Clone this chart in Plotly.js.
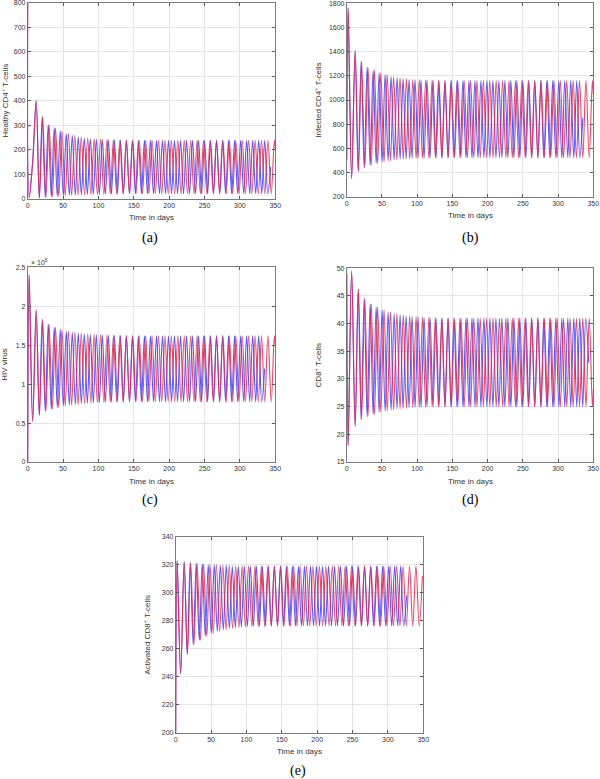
<!DOCTYPE html>
<html>
<head>
<meta charset="utf-8">
<script src="https://cdn.plot.ly/plotly-3.0.1.min.js"></script>
<style>html,body{margin:0;padding:0;background:#fff;}#chart{width:600px;height:779px;}</style>
</head>
<body>
<div id="chart"></div>
<script>
// Times (days) of successive turning points
const tBlue = [0, 2, 7, 12, 16.3, 20.5, 24.8, 29, 33.3, 37.5, 41.8, 46, 50.3, 54.5, 58.8, 63, 67.3, 71.5, 75.8, 80, 84.3, 88.5, 92.8, 97, 101.3, 105.5, 109.8, 114, 118.3, 122.5, 126.8, 131, 135.3, 139.5, 143.8, 148, 152.3, 156.5, 160.8, 165, 169.3, 173.5, 177.8, 182, 186.3, 190.5, 194.8, 199, 203.3, 207.5, 211.8, 216, 220.3, 224.5, 228.8, 233, 237.3, 241.5, 245.8, 250, 254.3, 258.5, 262.8, 267, 271.3, 275.5, 279.8, 284, 288.3, 292.5, 296.8, 301, 305.3, 309.5, 313.8, 318, 322.3, 326.5, 330.8, 335, 339.3, 343.5, 347.8];
const tRed = [0, 2, 7, 12, 16.6, 21.1, 25.7, 30.2, 34.8, 39.3, 43.9, 48.4, 53, 57.5, 62.1, 66.6, 71.2, 75.7, 80.3, 84.8, 89.4, 93.9, 98.5, 103, 107.6, 112.1, 116.7, 121.2, 125.8, 130.3, 134.9, 139.4, 144, 148.5, 153.1, 157.6, 162.2, 166.7, 171.3, 175.8, 180.4, 184.9, 189.5, 194, 198.6, 203.1, 207.7, 212.2, 216.8, 221.3, 225.9, 230.4, 235, 239.5, 244.1, 248.6, 253.2, 257.7, 262.3, 266.8, 271.4, 275.9, 280.5, 285, 289.6, 294.1, 298.7, 303.2, 307.8, 312.3, 316.9, 321.4, 326, 330.5, 335.1, 339.6, 344.2, 348.7];
const tEnd = 350;

// Turning-point values (shared envelope for both runs)
const healthyVals = [800, 5, 150, 400, 3, 335, 5, 302, 8, 288, 10, 276, 12, 266, 14, 258, 15, 252, 16, 248, 17, 245, 18, 243, 18, 241, 19, 240, 19, 239, 20, 239,
 20, 238, 20, 238, 20, 238, 20, 238, 20, 238, 20, 238, 20, 238, 20, 238, 20, 238, 20, 238, 20, 238, 20, 238, 20, 238, 20, 238, 20, 238, 20, 238, 20, 238, 20, 238, 20, 238, 20, 238, 20, 238, 20, 238, 20, 238, 20, 238, 20];
const infectedVals = [500, 1760, 350, 1410, 410, 1320, 440, 1270, 460, 1245, 475, 1225, 488, 1210, 497, 1195, 505, 1185, 510, 1178, 514, 1172, 517, 1168, 519, 1165, 520, 1163, 521, 1162, 521, 1161,
 522, 1160, 522, 1160, 522, 1160, 522, 1160, 522, 1160, 522, 1160, 522, 1160, 522, 1160, 522, 1160, 522, 1160, 522, 1160, 522, 1160, 522, 1160, 522, 1160, 522, 1160, 522, 1160, 522, 1160, 522, 1160, 522, 1160, 522, 1160, 522, 1160, 522, 1160, 522, 1160, 522];
const virusVals = [0, 240000, 52000, 195000, 60000, 183000, 65000, 177000, 68000, 173000, 70000, 170000, 72000, 168000, 73000, 166500, 74000, 165500, 75000, 164500, 75500, 164000, 76000, 163500, 76500, 163000, 76800, 162700, 77000, 162500, 77000, 162300,
 77200, 162000, 77200, 162000, 77200, 162000, 77200, 162000, 77200, 162000, 77200, 162000, 77200, 162000, 77200, 162000, 77200, 162000, 77200, 162000, 77200, 162000, 77200, 162000, 77200, 162000, 77200, 162000, 77200, 162000, 77200, 162000, 77200, 162000, 77200, 162000, 77200, 162000, 77200, 162000, 77200, 162000, 77200, 162000, 77200, 162000, 77200];
const cd8Vals = [49, 18, 49.5, 21.5, 46.2, 22.7, 44.6, 23.2, 43.6, 23.6, 43, 24, 42.5, 24.2, 42.1, 24.4, 41.8, 24.6, 41.6, 24.7, 41.4, 24.8, 41.3, 24.9, 41.2, 24.9, 41.1, 25, 41.1, 25, 41, 25,
 41, 25, 41, 25, 41, 25, 41, 25, 41, 25, 41, 25, 41, 25, 41, 25, 41, 25, 41, 25, 41, 25, 41, 25, 41, 25, 41, 25, 41, 25, 41, 25, 41, 25, 41, 25, 41, 25, 41, 25, 41, 25, 41, 25, 41, 25, 41, 25, 41];
const activatedVals = [200, 323, 242, 322, 256, 321.5, 263, 321, 266, 320.5, 269, 320, 271, 320, 272.5, 319.5, 273.5, 319.5, 274.5, 319, 275, 319, 275.5, 319, 275.8, 319, 276, 319, 276, 319, 276.2, 319,
 276.2, 319, 276.2, 319, 276.2, 319, 276.2, 319, 276.2, 319, 276.2, 319, 276.2, 319, 276.2, 319, 276.2, 319, 276.2, 319, 276.2, 319, 276.2, 319, 276.2, 319, 276.2, 319, 276.2, 319, 276.2, 319, 276.2, 319, 276.2, 319, 276.2, 319, 276.2, 319, 276.2, 319, 276.2, 319, 276.2];
// values at t = 350
const endBlue = {a: 130, b: 850, c: 120000, d: 33, e: 298};
const endRed = {a: 200, b: 1050, c: 150000, d: 28, e: 312};

const yTitles = ['Healthy CD4<sup>+</sup> T-cells', 'Infected CD4<sup>+</sup> T-cells', 'HIV virus', 'CD8<sup>+</sup> T-cells', 'Activated CD8<sup>+</sup> T-cells'];
const panelLabels = ['(a)', '(b)', '(c)', '(d)', '(e)'];
const xTitle = 'Time in days';
const xTicks = [0, 50, 100, 150, 200, 250, 300, 350];
const virusTickVals = [0, 50000, 100000, 150000, 200000, 250000];
const virusTickText = ['0', '0.5', '1', '1.5', '2', '2.5'];

const panels = [
  {key: 'a', vals: healthyVals, range: [0, 800], dtick: 100},
  {key: 'b', vals: infectedVals, range: [200, 1800], dtick: 200},
  {key: 'c', vals: virusVals, range: [0, 250000], tickvals: virusTickVals, ticktext: virusTickText},
  {key: 'd', vals: cd8Vals, range: [15, 50], dtick: 5},
  {key: 'e', vals: activatedVals, range: [200, 340], dtick: 20}
];

const W = 600, H = 779;
// plot-area pixel boxes [x0, x1, yTop, yBottom]
const boxes = [
  [27.7, 275.3, 2.7, 198.7],
  [346.7, 593.3, 3.3, 196.7],
  [27.7, 275.3, 267.3, 462],
  [346.7, 593.3, 268.3, 462],
  [175.7, 423.3, 536.7, 732.7]
];
const labelPos = [[150, 238], [470, 238], [150, 500], [470, 500], [298, 771]];
const xTitleGap = 19;

const blueColor = 'rgba(60,60,250,0.85)';
const redColor = 'rgba(228,40,80,0.85)';
const font = 'Liberation Sans, Arial, sans-serif';

const traces = [];
const layout = {
  width: W, height: H, margin: {l: 0, r: 0, t: 0, b: 0},
  paper_bgcolor: '#fff', plot_bgcolor: '#fff', showlegend: false,
  annotations: []
};

panels.forEach((p, i) => {
  const n = i + 1;
  const xa = 'x' + (n === 1 ? '' : n), ya = 'y' + (n === 1 ? '' : n);
  const bx = tBlue.concat([tEnd]);
  const by = p.vals.slice(0, tBlue.length).concat([endBlue[p.key]]);
  const rx = tRed.concat([tEnd]);
  const ry = p.vals.slice(0, tRed.length).concat([endRed[p.key]]);
  traces.push({x: bx, y: by, xaxis: xa, yaxis: ya, type: 'scatter', mode: 'lines',
    line: {color: blueColor, width: 1.1, shape: 'spline', smoothing: 1}, hoverinfo: 'skip'});
  traces.push({x: rx, y: ry, xaxis: xa, yaxis: ya, type: 'scatter', mode: 'lines',
    line: {color: redColor, width: 1.1, shape: 'spline', smoothing: 1}, hoverinfo: 'skip'});
  const b = boxes[i];
  const common = {
    showgrid: true, gridcolor: '#e4e4e4', gridwidth: 1, zeroline: false,
    showline: true, linecolor: '#5a5a5a', linewidth: 0.8, mirror: 'ticks',
    ticks: 'inside', ticklen: 3, tickcolor: '#5a5a5a', ticklabeloverflow: 'allow',
    tickfont: {family: font, size: 7, color: '#333'}, automargin: false
  };
  const xKey = 'xaxis' + (n === 1 ? '' : n), yKey = 'yaxis' + (n === 1 ? '' : n);
  layout[xKey] = Object.assign({}, common, {
    domain: [b[0] / W, b[1] / W], anchor: ya, range: [0, 350],
    tickvals: xTicks
  });
  const yAxis = Object.assign({}, common, {
    domain: [1 - b[3] / H, 1 - b[2] / H], anchor: xa, range: p.range,
    title: {text: yTitles[i], font: {family: font, size: 8, color: '#333'}}
  });
  if (p.tickvals) { yAxis.tickvals = p.tickvals; yAxis.ticktext = p.ticktext; }
  else { yAxis.dtick = p.dtick; yAxis.tick0 = p.range[0]; }
  layout[yKey] = yAxis;
  // x-axis title
  layout.annotations.push({
    text: xTitle, xref: 'paper', yref: 'paper',
    x: (b[0] + b[1]) / 2 / W, y: 1 - (b[3] + xTitleGap) / H, xanchor: 'center', yanchor: 'middle',
    showarrow: false, font: {family: font, size: 8, color: '#333'}
  });
  layout.annotations.push({
    text: panelLabels[i], xref: 'paper', yref: 'paper',
    x: labelPos[i][0] / W, y: 1 - labelPos[i][1] / H, xanchor: 'center', yanchor: 'middle',
    showarrow: false, font: {family: 'Liberation Serif, Times New Roman, serif', size: 14, color: '#000'}
  });
});

layout.annotations.push({
  text: '× 10<sup>5</sup>', xref: 'paper', yref: 'paper',
  x: 29 / W, y: 1 - 262 / H, xanchor: 'left', yanchor: 'middle', showarrow: false,
  font: {family: font, size: 7, color: '#333'}
});

Plotly.newPlot('chart', traces, layout, {staticPlot: true, displayModeBar: false});
</script>
</body>
</html>
